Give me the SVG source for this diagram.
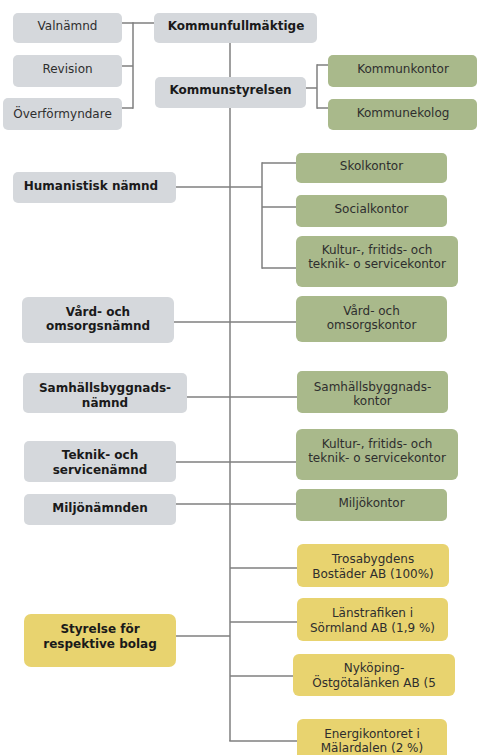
<svg xmlns="http://www.w3.org/2000/svg" width="478" height="755" viewBox="0 0 478 755">
<style>
.g{fill:#d5d8dc}
.gr{fill:#a9b98b}
.y{fill:#e8d36f}
text{font-family:"DejaVu Sans","Verdana",sans-serif;font-size:12px;fill:#2e2e2e;text-anchor:middle}
.b{font-weight:bold;fill:#1a1a1a}
#connectors line{stroke:#7f7f7f;stroke-width:1.5;fill:none}
</style>
<rect width="478" height="755" fill="#fff"/>
<g id="connectors">
<line x1="230" y1="43" x2="230" y2="741"/>
<line x1="122" y1="23" x2="155" y2="23"/>
<line x1="122" y1="66" x2="133" y2="66"/>
<line x1="122" y1="108" x2="133" y2="108"/>
<line x1="133" y1="22.25" x2="133" y2="108.75"/>
<line x1="306" y1="88" x2="317" y2="88"/>
<line x1="317" y1="64.25" x2="317" y2="108.75"/>
<line x1="317" y1="65" x2="328" y2="65"/>
<line x1="317" y1="108" x2="328" y2="108"/>
<line x1="176" y1="187" x2="262" y2="187"/>
<line x1="262" y1="162.25" x2="262" y2="268.75"/>
<line x1="262" y1="163" x2="296" y2="163"/>
<line x1="262" y1="207" x2="296" y2="207"/>
<line x1="262" y1="268" x2="296" y2="268"/>
<line x1="174" y1="322" x2="296" y2="322"/>
<line x1="187" y1="397" x2="297" y2="397"/>
<line x1="176" y1="462" x2="296" y2="462"/>
<line x1="176" y1="504" x2="296" y2="504"/>
<line x1="176" y1="636" x2="230" y2="636"/>
<line x1="230" y1="568" x2="297" y2="568"/>
<line x1="230" y1="622" x2="297" y2="622"/>
<line x1="230" y1="676" x2="293" y2="676"/>
<line x1="229.25" y1="741" x2="297" y2="741"/>
</g>
<g id="valnamnd"><rect class="g" x="13" y="13" width="109" height="30" rx="5"/><text x="67.5" y="29.5">Valnämnd</text></g>
<g id="revision"><rect class="g" x="13" y="55" width="109" height="32" rx="5"/><text x="67.5" y="72.5">Revision</text></g>
<g id="overformyndare"><rect class="g" x="3" y="98" width="119" height="32" rx="5"/><text x="62.5" y="117.5">Överförmyndare</text></g>
<g id="kommunfullmaktige"><rect class="g" x="154" y="13" width="163" height="30" rx="5"/><text class="b" x="236" y="29.5">Kommunfullmäktige</text></g>
<g id="kommunstyrelsen"><rect class="g" x="155" y="77" width="151" height="31" rx="5"/><text class="b" x="230.5" y="93.5">Kommunstyrelsen</text></g>
<g id="kommunkontor"><rect class="gr" x="328" y="55" width="149" height="32" rx="5"/><text x="403" y="72.5">Kommunkontor</text></g>
<g id="kommunekolog"><rect class="gr" x="328" y="99" width="149" height="31" rx="5"/><text x="403" y="116.5">Kommunekolog</text></g>
<g id="humanistisk"><rect class="g" x="13" y="172" width="163" height="31" rx="5"/><text class="b" x="91" y="189.5">Humanistisk nämnd</text></g>
<g id="skolkontor"><rect class="gr" x="296" y="153" width="151" height="30" rx="5"/><text x="371.5" y="169.5">Skolkontor</text></g>
<g id="socialkontor"><rect class="gr" x="296" y="195" width="151" height="32" rx="5"/><text x="371.5" y="212.5">Socialkontor</text></g>
<g id="kultur1"><rect class="gr" x="296" y="236" width="162" height="51" rx="6"/><text x="377" y="253.5">Kultur-, fritids- och</text><text x="377" y="267.5">teknik- o servicekontor</text></g>
<g id="vard"><rect class="g" x="22" y="297" width="152" height="46" rx="6"/><text class="b" x="98" y="315.5">Vård- och</text><text class="b" x="98" y="329.5">omsorgsnämnd</text></g>
<g id="vardkontor"><rect class="gr" x="296" y="296" width="151" height="46" rx="6"/><text x="371.5" y="314.5">Vård- och</text><text x="371.5" y="328.5">omsorgskontor</text></g>
<g id="samhall"><rect class="g" x="23" y="373" width="164" height="40" rx="5"/><text class="b" x="105" y="391.5">Samhällsbyggnads-</text><text class="b" x="105" y="406.5">nämnd</text></g>
<g id="samhallkontor"><rect class="gr" x="297" y="371" width="151" height="42" rx="5"/><text x="372.5" y="390.5">Samhällsbyggnads-</text><text x="372.5" y="404.5">kontor</text></g>
<g id="teknik"><rect class="g" x="24" y="441" width="152" height="41" rx="5"/><text class="b" x="100" y="458.5">Teknik- och</text><text class="b" x="100" y="473.5">servicenämnd</text></g>
<g id="kultur2"><rect class="gr" x="296" y="429" width="162" height="51" rx="6"/><text x="377" y="447.5">Kultur-, fritids- och</text><text x="377" y="461.5">teknik- o servicekontor</text></g>
<g id="miljonamnden"><rect class="g" x="24" y="494" width="152" height="31" rx="5"/><text class="b" x="100" y="511.5">Miljönämnden</text></g>
<g id="miljokontor"><rect class="gr" x="296" y="489" width="151" height="32" rx="5"/><text x="371.5" y="506.5">Miljökontor</text></g>
<g id="trosa"><rect class="y" x="297" y="544" width="152" height="43" rx="6"/><text x="373" y="562.5">Trosabygdens</text><text x="373" y="577.5">Bostäder AB (100%)</text></g>
<g id="lanstrafiken"><rect class="y" x="297" y="598" width="151" height="43" rx="6"/><text x="372.5" y="616.5">Länstrafiken i</text><text x="372.5" y="631.5">Sörmland AB (1,9 %)</text></g>
<g id="nykoping"><rect class="y" x="293" y="654" width="162" height="42" rx="6"/><text x="374" y="671.5">Nyköping-</text><text x="374" y="686.5">Östgötalänken AB (5</text></g>
<g id="energi"><rect class="y" x="297" y="719" width="150" height="45" rx="6"/><text x="372" y="737.5">Energikontoret i</text><text x="372" y="751.5">Mälardalen (2 %)</text></g>
<g id="styrelse"><rect class="y" x="24" y="614" width="152" height="53" rx="7"/><text class="b" x="100" y="632.5">Styrelse för</text><text class="b" x="100" y="647.5">respektive bolag</text></g>
</svg>
